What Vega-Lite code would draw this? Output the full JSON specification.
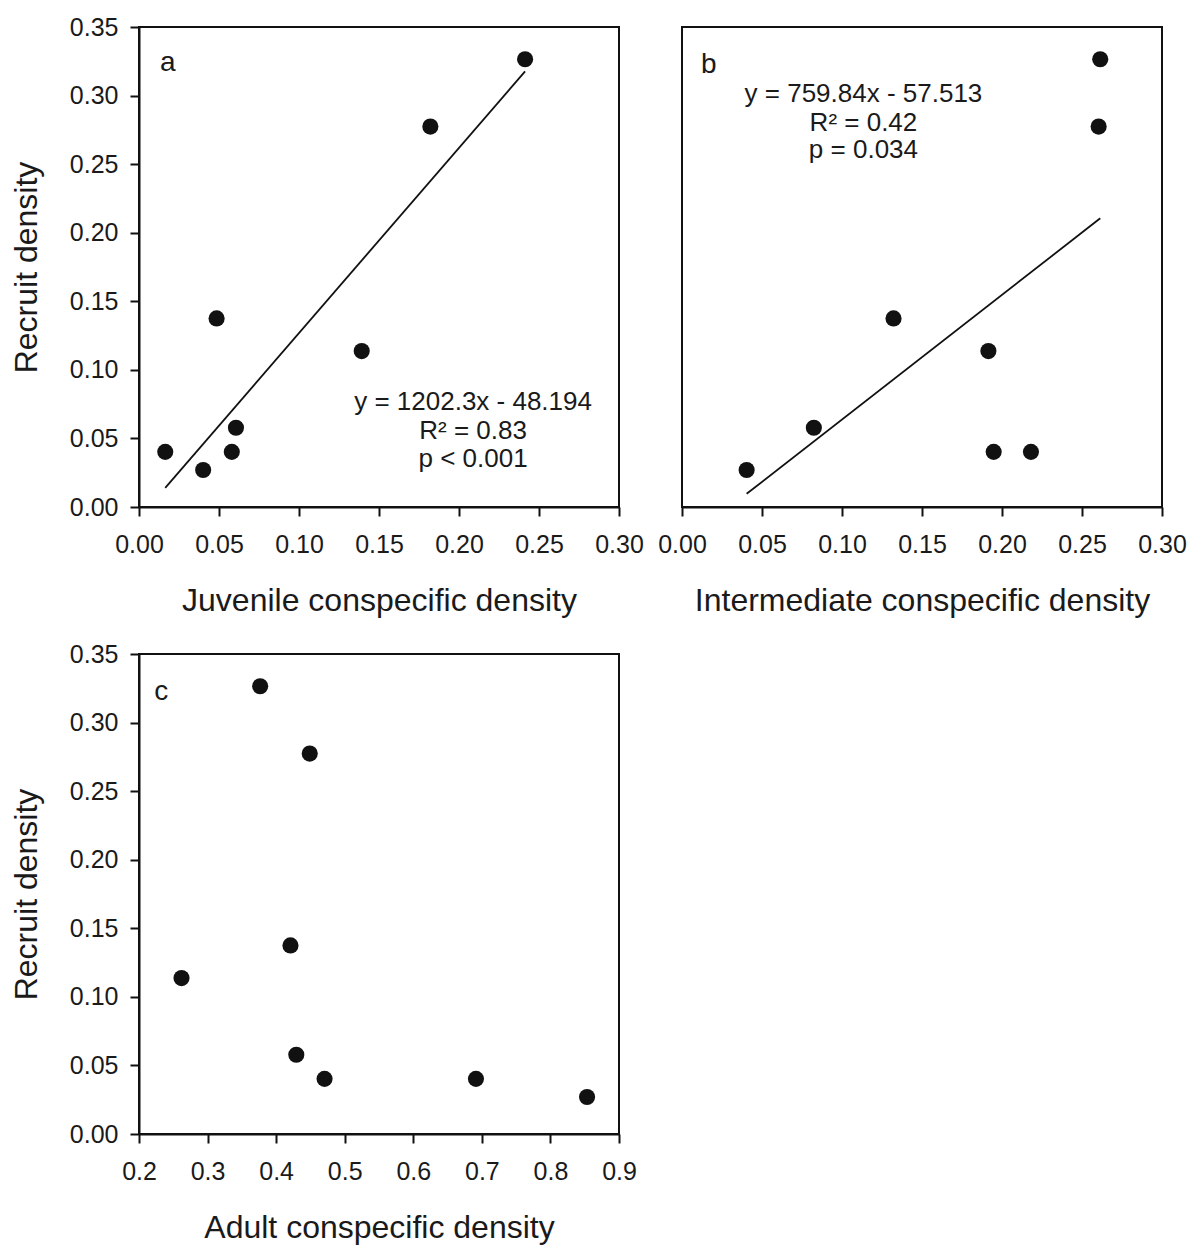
{
  "$schema": "https://vega.github.io/schema/vega-lite/v6.json",
  "background": "white",
  "padding": {"left": 9, "top": 14, "right": 5, "bottom": 5},
  "config": {
    "font": "Liberation Sans",
    "view": {"stroke": "#111", "strokeWidth": 2},
    "axis": {
      "grid": false,
      "domainColor": "#111",
      "domainWidth": 2,
      "tickColor": "#111",
      "tickWidth": 2,
      "tickSize": 9,
      "labelFont": "Liberation Sans",
      "labelFontSize": 25,
      "labelColor": "#1a1a1a",
      "labelFlush": false,
      "labelOverlap": false,
      "labelBound": false,
      "titleFont": "Liberation Sans",
      "titleFontSize": 32,
      "titleFontWeight": "normal",
      "titleColor": "#1a1a1a"
    },
    "axisX": {"labelPadding": 16, "titlePadding": 28},
    "axisY": {"labelPadding": 12, "titlePadding": 26}
  },
  "datasets": {
    "points": [
      {"panel": "a", "x": 0.0164, "y": 0.0402},
      {"panel": "a", "x": 0.0401, "y": 0.0270},
      {"panel": "a", "x": 0.0485, "y": 0.1375},
      {"panel": "a", "x": 0.0580, "y": 0.0402},
      {"panel": "a", "x": 0.0606, "y": 0.0578},
      {"panel": "a", "x": 0.1392, "y": 0.1137},
      {"panel": "a", "x": 0.1821, "y": 0.2774},
      {"panel": "a", "x": 0.2413, "y": 0.3265},
      {"panel": "b", "x": 0.0404, "y": 0.0270},
      {"panel": "b", "x": 0.0824, "y": 0.0578},
      {"panel": "b", "x": 0.1322, "y": 0.1375},
      {"panel": "b", "x": 0.1915, "y": 0.1137},
      {"panel": "b", "x": 0.1948, "y": 0.0402},
      {"panel": "b", "x": 0.2181, "y": 0.0402},
      {"panel": "b", "x": 0.2604, "y": 0.2774},
      {"panel": "b", "x": 0.2614, "y": 0.3265},
      {"panel": "c", "x": 0.3767, "y": 0.3265},
      {"panel": "c", "x": 0.4490, "y": 0.2774},
      {"panel": "c", "x": 0.4209, "y": 0.1375},
      {"panel": "c", "x": 0.2620, "y": 0.1137},
      {"panel": "c", "x": 0.4294, "y": 0.0578},
      {"panel": "c", "x": 0.4706, "y": 0.0402},
      {"panel": "c", "x": 0.6914, "y": 0.0402},
      {"panel": "c", "x": 0.8534, "y": 0.0270}
    ],
    "fits": [
      {"panel": "a", "x": 0.0164, "y": 0.0140},
      {"panel": "a", "x": 0.2413, "y": 0.3176},
      {"panel": "b", "x": 0.0404, "y": 0.0096},
      {"panel": "b", "x": 0.2614, "y": 0.2105}
    ],
    "letters": [
      {"panel": "a", "x": 0.0131, "y": 0.3238, "text": "a"},
      {"panel": "b", "x": 0.0118, "y": 0.3223, "text": "b"},
      {"panel": "c", "x": 0.2221, "y": 0.3220, "text": "c"}
    ],
    "notes": [
      {"panel": "a", "x": 0.2088, "y": 0.0769, "text": "y = 1202.3x - 48.194"},
      {"panel": "a", "x": 0.2088, "y": 0.0551, "text": "R² = 0.83"},
      {"panel": "a", "x": 0.2088, "y": 0.0353, "text": "p < 0.001"},
      {"panel": "b", "x": 0.1134, "y": 0.3014, "text": "y = 759.84x - 57.513"},
      {"panel": "b", "x": 0.1134, "y": 0.2802, "text": "R² = 0.42"},
      {"panel": "b", "x": 0.1134, "y": 0.2603, "text": "p = 0.034"}
    ]
  },
  "columns": 2,
  "bounds": "flush",
  "spacing": {"column": 63, "row": 147},
  "concat": [
    {
      "width": 480,
      "height": 480,
      "encoding": {
        "x": {"field": "x", "type": "quantitative", "scale": {"domain": [0, 0.3], "nice": false, "zero": false},
              "axis": {"title": "Juvenile conspecific density", "values": [0, 0.05, 0.1, 0.15, 0.2, 0.25, 0.3], "format": ".2f"}},
        "y": {"field": "y", "type": "quantitative", "scale": {"domain": [0, 0.35], "nice": false, "zero": false},
              "axis": {"title": "Recruit density", "values": [0, 0.05, 0.1, 0.15, 0.2, 0.25, 0.3, 0.35], "format": ".2f"}}
      },
      "layer": [
        {"data": {"name": "fits"}, "transform": [{"filter": "datum.panel === 'a'"}], "mark": {"type": "line", "color": "#111", "strokeWidth": 1.8}},
        {"data": {"name": "points"}, "transform": [{"filter": "datum.panel === 'a'"}], "mark": {"type": "circle", "size": 260, "color": "#111", "opacity": 1}},
        {"data": {"name": "letters"}, "transform": [{"filter": "datum.panel === 'a'"}], "mark": {"type": "text", "align": "left", "baseline": "middle", "fontSize": 28, "color": "#1a1a1a"}, "encoding": {"text": {"field": "text"}}},
        {"data": {"name": "notes"}, "transform": [{"filter": "datum.panel === 'a'"}], "mark": {"type": "text", "align": "center", "baseline": "middle", "fontSize": 26, "color": "#1a1a1a"}, "encoding": {"text": {"field": "text"}}}
      ]
    },
    {
      "width": 480,
      "height": 480,
      "encoding": {
        "x": {"field": "x", "type": "quantitative", "scale": {"domain": [0, 0.3], "nice": false, "zero": false},
              "axis": {"title": "Intermediate conspecific density", "values": [0, 0.05, 0.1, 0.15, 0.2, 0.25, 0.3], "format": ".2f"}},
        "y": {"field": "y", "type": "quantitative", "scale": {"domain": [0, 0.35], "nice": false, "zero": false}, "axis": null}
      },
      "layer": [
        {"data": {"name": "fits"}, "transform": [{"filter": "datum.panel === 'b'"}], "mark": {"type": "line", "color": "#111", "strokeWidth": 1.8}},
        {"data": {"name": "points"}, "transform": [{"filter": "datum.panel === 'b'"}], "mark": {"type": "circle", "size": 260, "color": "#111", "opacity": 1}},
        {"data": {"name": "letters"}, "transform": [{"filter": "datum.panel === 'b'"}], "mark": {"type": "text", "align": "left", "baseline": "middle", "fontSize": 28, "color": "#1a1a1a"}, "encoding": {"text": {"field": "text"}}},
        {"data": {"name": "notes"}, "transform": [{"filter": "datum.panel === 'b'"}], "mark": {"type": "text", "align": "center", "baseline": "middle", "fontSize": 26, "color": "#1a1a1a"}, "encoding": {"text": {"field": "text"}}}
      ]
    },
    {
      "width": 480,
      "height": 480,
      "encoding": {
        "x": {"field": "x", "type": "quantitative", "scale": {"domain": [0.2, 0.9], "nice": false, "zero": false},
              "axis": {"title": "Adult conspecific density", "values": [0.2, 0.3, 0.4, 0.5, 0.6, 0.7, 0.8, 0.9], "format": ".1f"}},
        "y": {"field": "y", "type": "quantitative", "scale": {"domain": [0, 0.35], "nice": false, "zero": false},
              "axis": {"title": "Recruit density", "values": [0, 0.05, 0.1, 0.15, 0.2, 0.25, 0.3, 0.35], "format": ".2f"}}
      },
      "layer": [
        {"data": {"name": "points"}, "transform": [{"filter": "datum.panel === 'c'"}], "mark": {"type": "circle", "size": 260, "color": "#111", "opacity": 1}},
        {"data": {"name": "letters"}, "transform": [{"filter": "datum.panel === 'c'"}], "mark": {"type": "text", "align": "left", "baseline": "middle", "fontSize": 28, "color": "#1a1a1a"}, "encoding": {"text": {"field": "text"}}}
      ]
    }
  ]
}
